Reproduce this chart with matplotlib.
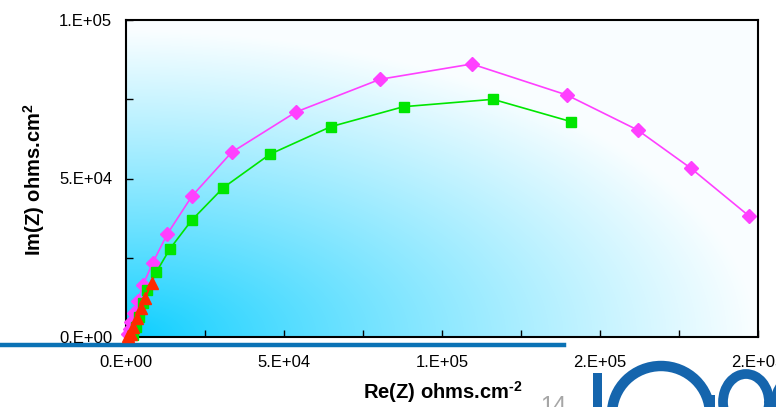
import numpy as np
import matplotlib.pyplot as plt
from matplotlib.patches import Arc, Rectangle
from matplotlib.lines import Line2D

plt.rcParams['font.family'] = ['Liberation Sans', 'DejaVu Sans']
plt.rcParams['mathtext.fontset'] = 'custom'
plt.rcParams['mathtext.rm'] = 'Liberation Sans:bold'
plt.rcParams['mathtext.default'] = 'rm'

# Nyquist data, Re(Z) / Im(Z) in ohms.cm2
re_pink = [475, 1110, 1740, 2530, 3640, 5380, 8390, 13070, 20890, 33450,
           53800, 80380, 109430, 139500, 161900, 178800, 197000]
im_pink = [950, 2520, 4730, 7570, 11200, 16400, 23250, 32490, 44480, 58270,
           70980, 81290, 86120, 76340, 65300, 53200, 38300]

re_green = [2310, 3160, 4210, 5380, 6800, 9560, 13860, 20760, 30790, 45510,
            64780, 87820, 116140, 140900]
im_green = [630, 3250, 6400, 10570, 14670, 20410, 27760, 36810, 47100, 57630,
            66340, 72650, 74980, 67920]

re_red = [730, 1580, 2310, 3390, 4650, 6110, 8130]
im_red = [160, 950, 3250, 5900, 9050, 12400, 17030]

x_ticks = [0, 50000, 100000, 150000, 200000]
x_labels = ['0.E+00', '5.E+04', '1.E+05', '2.E+05', '2.E+05']
y_ticks = [0, 50000, 100000]
y_labels = ['0.E+00', '5.E+04', '1.E+05']

W, H = 776, 407
fig = plt.figure(figsize=(W / 100, H / 100), dpi=100)
fig.patch.set_facecolor('white')


def fx(px):
    return px / W


def fy(py):
    return 1 - py / H


ax = fig.add_axes([fx(126), fy(337), fx(758) - fx(126), fy(20) - fy(337)])
ax.set_zorder(2)

# cyan-to-white fill behind the curves
u = np.linspace(0, 1, 400)
v = np.linspace(0, 1, 300)
U, V = np.meshgrid(u, v)
t = np.clip(np.sqrt(U ** 2 + (V / 0.97) ** 2), 0, 1) ** 0.85
t = 0.03 + 0.95 * t
cyan = np.array([0.0, 0.8, 1.0])
img = cyan * (1 - t[..., None]) + np.ones(3) * t[..., None]
ax.imshow(img, origin='lower', extent=[0, 2e5, 0, 1e5], aspect='auto',
          zorder=0, interpolation='bilinear')

ax.plot(re_pink, im_pink, color='#ff40ff', lw=1.2, marker='D', ms=7,
        clip_on=False, zorder=3)
ax.plot(re_green, im_green, color='#00e600', lw=1.2, marker='s', ms=7,
        clip_on=False, zorder=4)
ax.plot(re_red, im_red, color='#ff2a00', lw=1.2, marker='^', ms=8,
        clip_on=False, zorder=5)

ax.set_xlim(0, 2e5)
ax.set_ylim(0, 1e5)
ax.set_xticks(x_ticks)
ax.set_xticklabels(x_labels)
ax.set_xticks([25000, 75000, 125000, 175000], minor=True)
ax.set_yticks(y_ticks)
ax.set_yticklabels(y_labels)
ax.set_yticks([25000, 75000], minor=True)
ax.tick_params(which='both', direction='in', length=5, width=1, color='black',
               labelsize=12, labelcolor='black')
ax.tick_params(axis='x', which='major', pad=13)
ax.tick_params(axis='y', which='major', pad=10)
for s in ax.spines.values():
    s.set_linewidth(1.5)
    s.set_color('black')

fig.text(fx(443), fy(392), r'Re(Z) ohms.cm$^{\text{-2}}$', fontsize=14.5,
         fontweight='bold', ha='center', va='center')
fig.text(fx(34), fy(180), r'Im(Z) ohms.cm$^{2}$', fontsize=14.5,
         fontweight='bold', ha='center', va='center', rotation=90)

# slide decorations: rule, page number, logo
deco = fig.add_axes([0, 0, 1, 1])
deco.set_zorder(1)
deco.set_xlim(0, W)
deco.set_ylim(H, 0)
deco.axis('off')
deco.add_line(Line2D([0, 564], [345, 345], color='#0b72b5', lw=3.2))
deco.text(540, 396, '14', color='#a6a6a6', fontsize=17, ha='left', va='top')

logo = '#1565ad'
deco.add_patch(Rectangle((593, 373), 9, 40, color=logo, lw=0))
deco.add_patch(Arc((661, 414), 98, 96, theta1=180, theta2=360, color=logo, lw=7.5))
deco.add_patch(Rectangle((705, 395), 10, 20, color=logo, lw=0))
deco.add_patch(Arc((746, 402), 46, 56, theta1=0, theta2=360, color=logo, lw=7))
deco.add_patch(Arc((800, 405), 50, 60, theta1=90, theta2=270, color=logo, lw=7))

fig.savefig('out.png', dpi=100)
